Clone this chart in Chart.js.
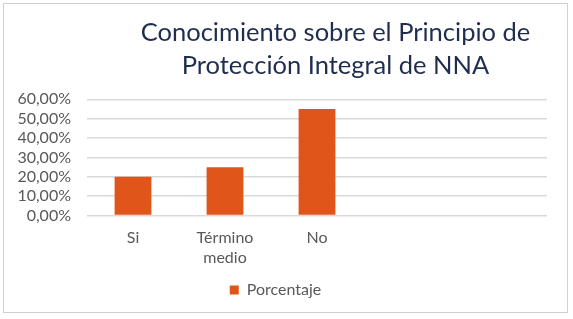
<!DOCTYPE html>
<html>
<head>
<meta charset="utf-8">
<script src="https://cdn.jsdelivr.net/npm/chart.js@4.4.1/dist/chart.umd.min.js"></script>
<style>
    html, body { margin: 0; padding: 0; background: #fff; }
    #frame {
        position: absolute;
        left: 3px;
        top: 3px;
        width: 563px;
        height: 308px;
        border: 1px solid #d0d0d0;
    }
    #chartWrap { position: relative; width: 563px; height: 308px; }
</style>
</head>
<body>
<div id="frame"><div id="chartWrap"><canvas id="chartConocimiento"></canvas></div></div>
<script>
const categories = [["Si"], ["Término", "medio"], ["No"], "", ""];
const porcentaje = [0.20, 0.25, 0.55, null, null];
const titleLines = ["Conocimiento sobre el Principio de", "Protección Integral de NNA"];

const fontFamily = "Lato, 'Open Sans', sans-serif";
const barColor = "#E0551A";

// shift the title a bit right, like the original Excel chart
const titleShift = {
    id: "titleShift",
    afterLayout(chart) {
        chart.titleBlock.left += 60;
        chart.titleBlock.right += 60;
    }
};

const ctx = document.getElementById("chartConocimiento").getContext("2d");
new Chart(ctx, {
    type: "bar",
    data: {
        labels: categories,
        datasets: [
            {
                label: "Porcentaje",
                data: porcentaje,
                backgroundColor: barColor,
                borderWidth: 0,
                categoryPercentage: 0.4,
                barPercentage: 1.0
            }
        ]
    },
    options: {
        responsive: true,
        maintainAspectRatio: false,
        animation: false,
        layout: {
            padding: { left: 0, right: 20, top: 4, bottom: 4 }
        },
        scales: {
            x: {
                grid: { display: false },
                border: { display: false },
                ticks: {
                    color: "#595959",
                    font: { family: fontFamily, size: 16, lineHeight: 1.2 },
                    padding: 5,
                    maxRotation: 0
                },
                afterFit: (scale) => { scale.height += 3; }
            },
            y: {
                min: 0,
                max: 0.6,
                border: { display: false },
                grid: { color: "#d9d9d9", lineWidth: 1.5, drawTicks: false },
                ticks: {
                    stepSize: 0.1,
                    autoSkip: false,
                    color: "#595959",
                    font: { family: fontFamily, size: 16 },
                    padding: 16,
                    callback: (v) => (v * 100).toFixed(2).replace(".", ",") + "%"
                },
                afterFit: (scale) => { scale.width = 83; }
            }
        },
        plugins: {
            title: {
                display: true,
                text: titleLines,
                color: "#1F2D4F",
                font: { family: fontFamily, size: 25.5, weight: "normal", lineHeight: 1.3 },
                padding: { top: 8, bottom: 17 }
            },
            legend: {
                position: "bottom",
                labels: {
                    color: "#595959",
                    font: { family: fontFamily, size: 16 },
                    boxWidth: 9,
                    boxHeight: 9,
                    padding: 7
                }
            },
            tooltip: { enabled: false }
        }
    },
    plugins: [titleShift]
});
</script>
</body>
</html>
